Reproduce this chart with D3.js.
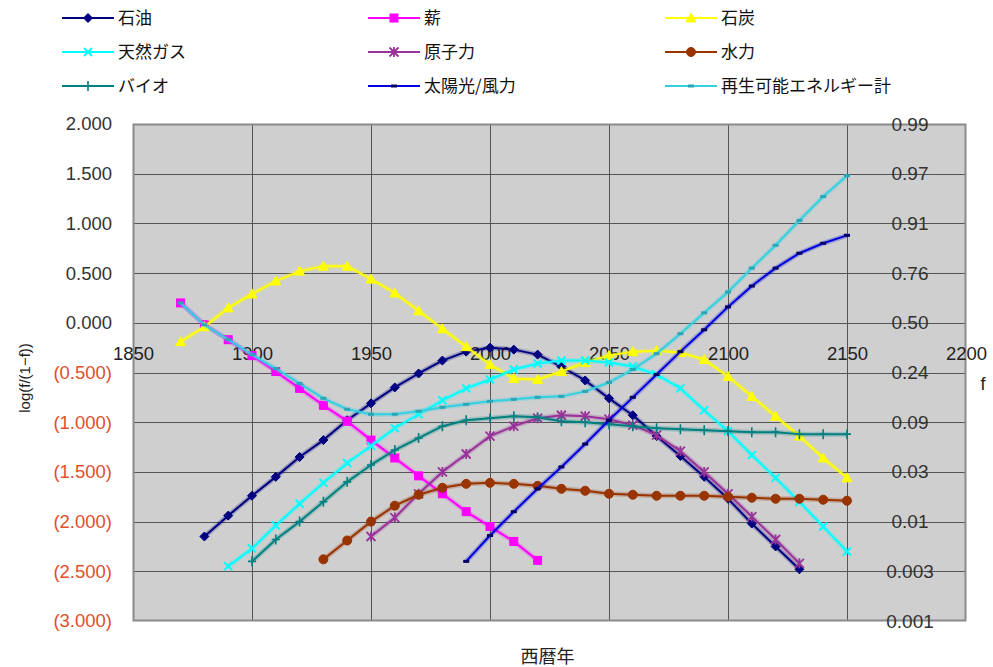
<!DOCTYPE html>
<html>
<head>
<meta charset="utf-8">
<script src="https://cdn.jsdelivr.net/npm/d3@7"></script>
<style>
  html, body { margin: 0; padding: 0; background: #ffffff; }
  svg { display: block; }
  text { font-family: "Liberation Sans", Arial, sans-serif; }
  .jp { font-family: "Noto Sans CJK JP", "Noto Sans", sans-serif; }
</style>
</head>
<body>
<svg id="chart" width="993" height="667"></svg>
<script>
// Log-odds (logistic substitution) of primary energy shares, 10-year steps
const oilStart = 1880;
const oil = [-2.15,-1.94,-1.74,-1.55,-1.35,-1.18,-0.98,-0.81,-0.65,-0.51,-0.38,-0.29,-0.25,-0.27,-0.32,-0.44,-0.58,-0.76,-0.93,-1.14,-1.34,-1.55,-1.77,-2.02,-2.25,-2.48];

const woodStart = 1870;
const wood = [0.20,-0.02,-0.17,-0.33,-0.49,-0.66,-0.83,-0.99,-1.18,-1.36,-1.54,-1.72,-1.90,-2.05,-2.20,-2.39];

const coalStart = 1870;
const coal = [-0.19,-0.04,0.15,0.29,0.42,0.52,0.57,0.57,0.44,0.30,0.12,-0.06,-0.24,-0.42,-0.56,-0.57,-0.49,-0.40,-0.33,-0.29,-0.28,-0.30,-0.37,-0.54,-0.74,-0.94,-1.14,-1.36,-1.56];

const gasStart = 1890;
const gas = [-2.45,-2.27,-2.04,-1.82,-1.61,-1.41,-1.24,-1.06,-0.92,-0.78,-0.66,-0.57,-0.47,-0.41,-0.38,-0.38,-0.40,-0.44,-0.52,-0.66,-0.88,-1.09,-1.33,-1.56,-1.80,-2.05,-2.30];

const nuclearStart = 1950;
const nuclear = [-2.15,-1.96,-1.72,-1.50,-1.32,-1.14,-1.04,-0.96,-0.93,-0.94,-0.97,-1.03,-1.13,-1.29,-1.50,-1.72,-1.95,-2.18,-2.42];

const hydroStart = 1930;
const hydro = [-2.38,-2.19,-2.00,-1.84,-1.73,-1.66,-1.62,-1.61,-1.62,-1.64,-1.67,-1.69,-1.72,-1.73,-1.74,-1.74,-1.74,-1.75,-1.76,-1.77,-1.77,-1.78,-1.79];

const bioStart = 1900;
const bio = [-2.40,-2.18,-2.00,-1.80,-1.60,-1.43,-1.28,-1.16,-1.04,-0.98,-0.96,-0.94,-0.95,-0.99,-1.00,-1.02,-1.04,-1.06,-1.07,-1.08,-1.09,-1.10,-1.10,-1.12,-1.12,-1.12];

const solarStart = 1990;
const solar = [-2.40,-2.14,-1.90,-1.67,-1.45,-1.22,-0.98,-0.75,-0.52,-0.29,-0.07,0.16,0.37,0.55,0.70,0.80,0.88];

const renewStart = 1870;
const renew = [0.20,-0.02,-0.17,-0.32,-0.46,-0.61,-0.76,-0.87,-0.92,-0.92,-0.89,-0.85,-0.82,-0.79,-0.77,-0.75,-0.74,-0.69,-0.60,-0.47,-0.31,-0.11,0.10,0.31,0.55,0.78,1.03,1.27,1.48];

// Axis ticks
const yearTicks = [1850,1900,1950,2000,2050,2100,2150,2200];
const logTicks = [2,1.5,1,0.5,0,-0.5,-1,-1.5,-2,-2.5,-3];
const shareLabels = ["0.99","0.97","0.91","0.76","0.50","0.24","0.09","0.03","0.01","0.003","0.001"];

const seriesNames = ["石油","薪","石炭","天然ガス","原子力","水力","バイオ","太陽光/風力","再生可能エネルギー計"];
const seriesColors = ["#000080","#ff00ff","#ffff00","#00ffff","#993399","#993300","#008080","#0000dd","#33d0e0"];
const seriesMarkers = ["diamond","square","triangle","x","star","circle","plus","dash","dash"];
const seriesStarts = [oilStart,woodStart,coalStart,gasStart,nuclearStart,hydroStart,bioStart,solarStart,renewStart];
const seriesValues = [oil,wood,coal,gas,nuclear,hydro,bio,solar,renew];

const svg = d3.select("#chart");
const plot = {left: 133, right: 966, top: 124, bottom: 621};

const x = d3.scaleLinear().domain([1850, 2200]).range([plot.left, plot.right]);
const y = d3.scaleLinear().domain([-3, 2]).range([plot.bottom, plot.top]);

// Plot background
svg.append("rect")
  .attr("x", plot.left).attr("y", plot.top)
  .attr("width", plot.right - plot.left).attr("height", plot.bottom - plot.top)
  .attr("fill", "#cfcfcf");

// Gridlines
const grid = svg.append("g").attr("stroke", "#555555").attr("stroke-width", 1);
grid.selectAll("line.h").data(logTicks.slice(1, -1)).join("line")
  .attr("x1", plot.left).attr("x2", plot.right)
  .attr("y1", d => Math.round(y(d)) + 0.5).attr("y2", d => Math.round(y(d)) + 0.5);
grid.selectAll("line.v").data(yearTicks.slice(1, -1)).join("line")
  .attr("y1", plot.top).attr("y2", plot.bottom)
  .attr("x1", d => Math.round(x(d)) + 0.5).attr("x2", d => Math.round(x(d)) + 0.5);

// Plot frame
svg.append("rect")
  .attr("x", plot.left + 0.5).attr("y", plot.top + 0.5)
  .attr("width", plot.right - plot.left - 1).attr("height", plot.bottom - plot.top - 1)
  .attr("fill", "none").attr("stroke", "#8a8a8a").attr("stroke-width", 2);

// Left axis: log(f/(1-f)), negatives in parentheses
const leftAxis = d3.axisLeft(y).tickValues(logTicks).tickSize(0).tickPadding(0)
  .tickFormat(d => d < 0 ? "(" + (-d).toFixed(3) + ")" : d.toFixed(3));
const gl = svg.append("g").attr("transform", "translate(112,0)").call(leftAxis);
gl.select(".domain").remove();
gl.selectAll("text").attr("font-size", 18.5).attr("font-family", "Liberation Sans, Arial, sans-serif")
  .attr("fill", d => d < 0 ? "#e0502a" : "#333333");

// Right axis: share f
const rightAxis = d3.axisRight(y).tickValues(logTicks).tickSize(0).tickPadding(0)
  .tickFormat((d, i) => shareLabels[i]);
const gr = svg.append("g").attr("transform", "translate(910,0)").call(rightAxis);
gr.select(".domain").remove();
gr.selectAll("text").attr("font-size", 19).attr("text-anchor", "middle")
  .attr("font-family", "Liberation Sans, Arial, sans-serif").attr("fill", "#333333");

// Year axis crossing at zero
const bottomAxis = d3.axisBottom(x).tickValues(yearTicks).tickSize(0).tickPadding(24)
  .tickFormat(d3.format("d"));
const gb = svg.append("g").attr("transform", `translate(0,${y(0)})`).call(bottomAxis);
gb.select(".domain").remove();
gb.selectAll("text").attr("font-size", 18.5).attr("font-family", "Liberation Sans, Arial, sans-serif")
  .attr("fill", "#222222");

// Axis titles
svg.append("text").attr("class", "jp")
  .attr("x", (plot.left + plot.right) / 2 - 2).attr("y", 663)
  .attr("text-anchor", "middle").attr("font-size", 18).attr("fill", "#222")
  .text("西暦年");
svg.append("text")
  .attr("transform", "translate(30,378) rotate(-90)")
  .attr("text-anchor", "middle").attr("font-size", 15).attr("fill", "#222")
  .text("log(f/(1−f))");
svg.append("text")
  .attr("x", 983).attr("y", 390).attr("text-anchor", "middle")
  .attr("font-size", 18).attr("fill", "#222").text("f");

// Marker drawing
function drawMarker(g, type, color, cx, cy) {
  const s = 4.5;
  switch (type) {
    case "diamond":
      g.append("path").attr("d", `M${cx},${cy - s}L${cx + s},${cy}L${cx},${cy + s}L${cx - s},${cy}Z`)
        .attr("fill", color).attr("stroke", color);
      break;
    case "square":
      g.append("rect").attr("x", cx - 4).attr("y", cy - 4).attr("width", 8).attr("height", 8)
        .attr("fill", color).attr("stroke", color);
      break;
    case "triangle":
      g.append("path").attr("d", `M${cx},${cy - 5}L${cx + 5},${cy + 4}L${cx - 5},${cy + 4}Z`)
        .attr("fill", color).attr("stroke", color);
      break;
    case "x":
      g.append("path").attr("d", `M${cx - 4},${cy - 4}L${cx + 4},${cy + 4}M${cx - 4},${cy + 4}L${cx + 4},${cy - 4}`)
        .attr("stroke", color).attr("stroke-width", 2).attr("fill", "none");
      break;
    case "star":
      g.append("path").attr("d", `M${cx - 4.5},${cy - 4.5}L${cx + 4.5},${cy + 4.5}M${cx - 4.5},${cy + 4.5}L${cx + 4.5},${cy - 4.5}M${cx},${cy - 5}L${cx},${cy + 5}`)
        .attr("stroke", color).attr("stroke-width", 1.8).attr("fill", "none");
      break;
    case "circle":
      g.append("circle").attr("cx", cx).attr("cy", cy).attr("r", 4.5)
        .attr("fill", color).attr("stroke", color);
      break;
    case "plus":
      g.append("path").attr("d", `M${cx - 4},${cy}L${cx + 4},${cy}M${cx},${cy - 5}L${cx},${cy + 5}`)
        .attr("stroke", color).attr("stroke-width", 1.6).attr("fill", "none");
      break;
    case "dash":
      g.append("path").attr("d", `M${cx - 3},${cy}L${cx + 3},${cy}`)
        .attr("stroke", color).attr("stroke-width", 3).attr("fill", "none");
      break;
  }
}

const line = d3.line().x(d => x(d[0])).y(d => y(d[1]));
const dashMarkerColor = ["", "", "", "", "", "", "", "#000066", "#2aa6b6"];

seriesValues.forEach((vals, i) => {
  const pts = vals.map((v, k) => [seriesStarts[i] + 10 * k, v]);
  const g = svg.append("g");
  // soft halo under each line
  g.append("path").datum(pts).attr("d", line).attr("fill", "none")
    .attr("stroke", seriesColors[i]).attr("stroke-opacity", 0.25).attr("stroke-width", 5)
    .attr("stroke-linejoin", "round");
  g.append("path").datum(pts).attr("d", line).attr("fill", "none")
    .attr("stroke", seriesColors[i]).attr("stroke-width", 2).attr("stroke-linejoin", "round");
  const mc = seriesMarkers[i] === "dash" ? dashMarkerColor[i] : seriesColors[i];
  pts.forEach(p => drawMarker(g, seriesMarkers[i], mc, x(p[0]), y(p[1])));
});

// Legend: three columns, three rows
const legendCols = [62, 368, 665];
const legendRows = [18, 52, 86];
seriesNames.forEach((name, i) => {
  const lx = legendCols[i % 3];
  const ly = legendRows[Math.floor(i / 3)];
  const g = svg.append("g");
  g.append("line").attr("x1", lx).attr("x2", lx + 52).attr("y1", ly).attr("y2", ly)
    .attr("stroke", seriesColors[i]).attr("stroke-width", 2);
  const mc = seriesMarkers[i] === "dash" ? dashMarkerColor[i] : seriesColors[i];
  drawMarker(g, seriesMarkers[i], mc, lx + 26, ly);
  g.append("text").attr("class", "jp").attr("x", lx + 56).attr("y", ly)
    .attr("dy", "0.35em").attr("font-size", 17).attr("fill", "#111").text(name);
});
</script>
</body>
</html>
